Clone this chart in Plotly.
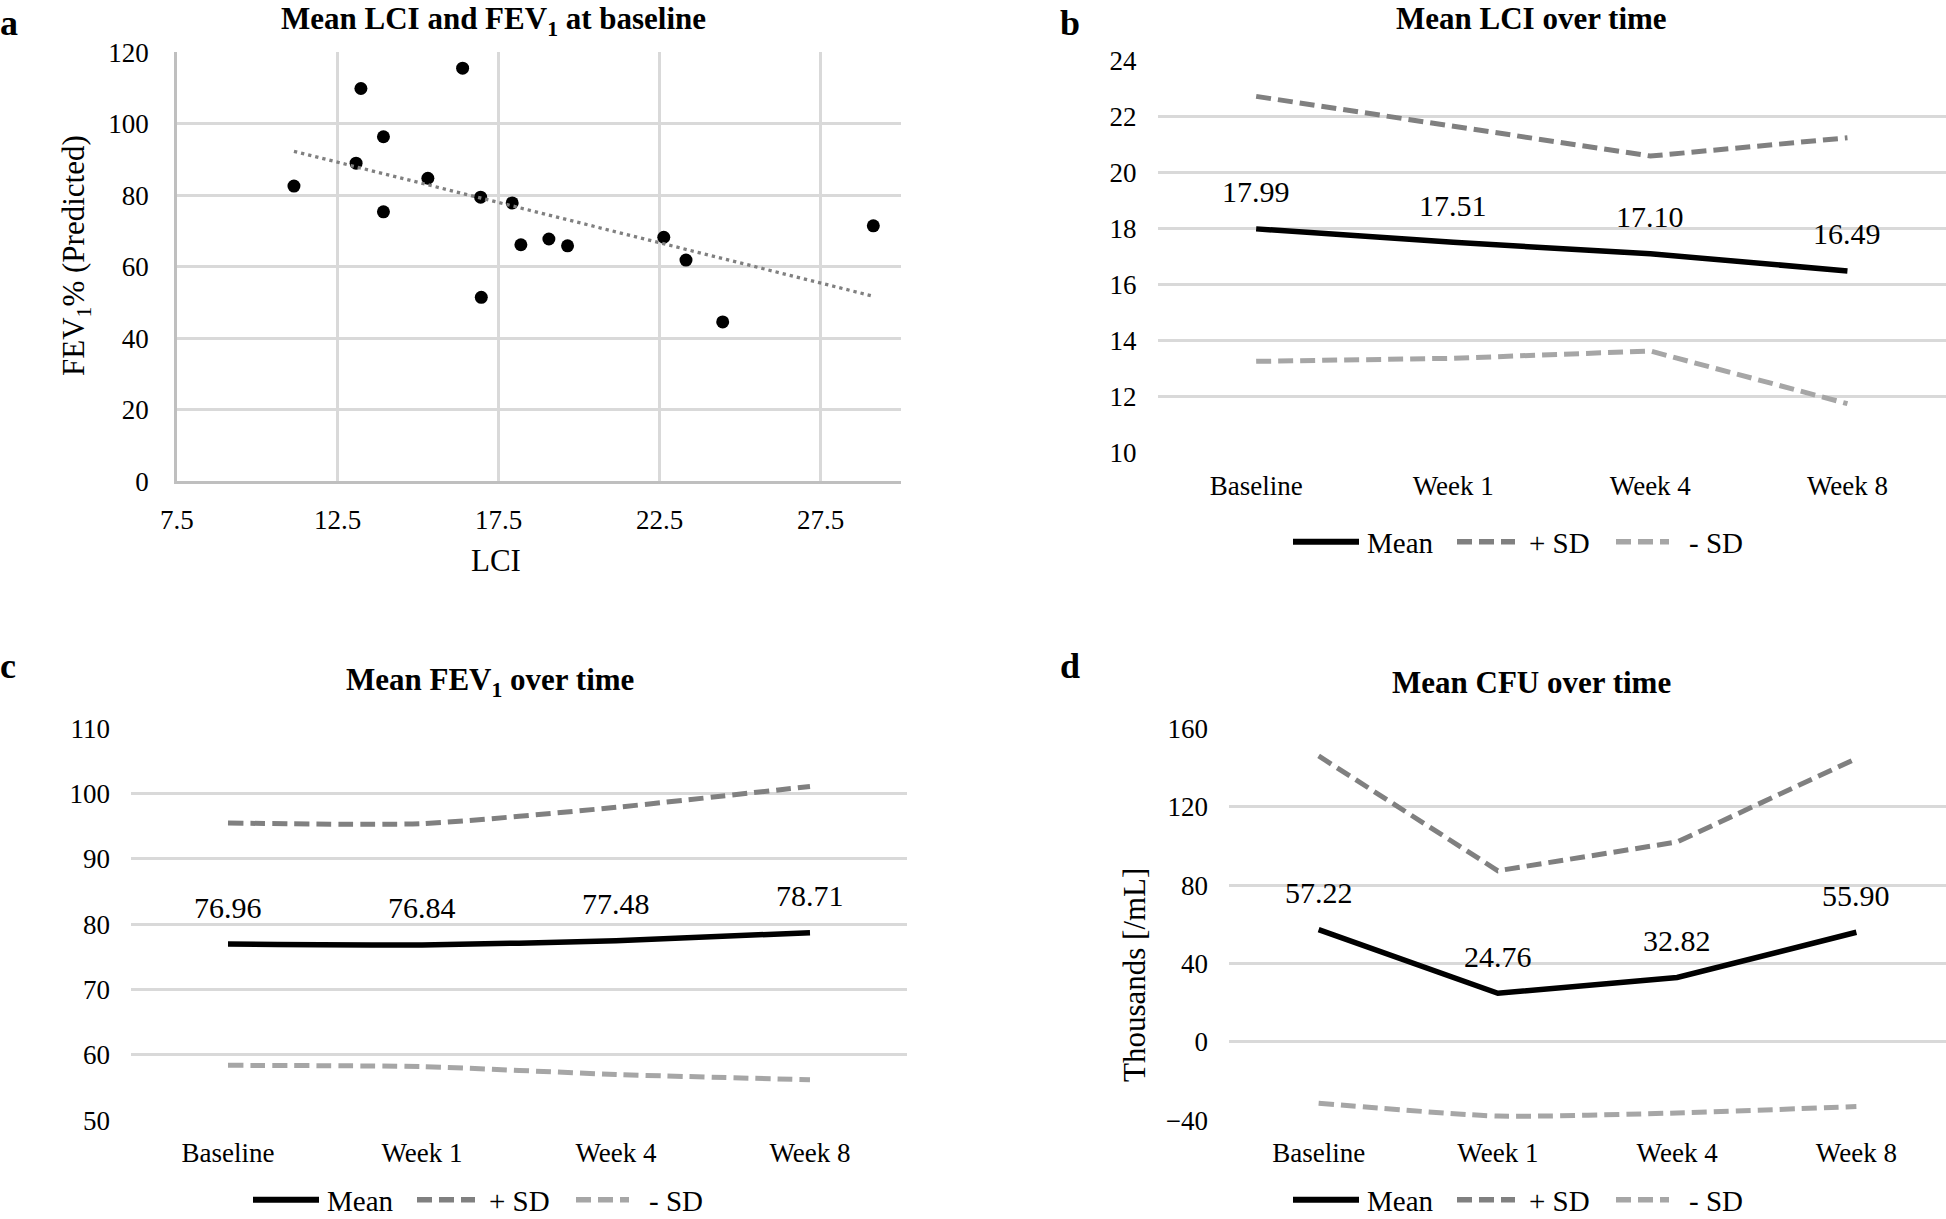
import numpy as np
import plotly.graph_objects as go

FONT = "Liberation Serif"
W, H = 1946, 1219

# ---------------- data ----------------
# Panel a: baseline LCI vs FEV1 % predicted
lci = [11.14, 13.22, 13.07, 13.92, 13.92, 15.30, 16.38, 16.94, 16.96, 17.92,
       18.19, 19.06, 19.64, 22.63, 23.32, 24.46, 29.14]
fev = [82.6, 109.9, 89.0, 96.4, 75.4, 84.8, 115.6, 79.5, 51.5, 77.9,
       66.2, 67.8, 65.9, 68.3, 61.9, 44.6, 71.5]
a_xticks = [7.5, 12.5, 17.5, 22.5, 27.5]

weeks = ["Baseline", "Week 1", "Week 4", "Week 8"]

lci_mean = [17.99, 17.51, 17.10, 16.49]
lci_plus = [22.72, 21.66, 20.59, 21.24]
lci_minus = [13.26, 13.37, 13.63, 11.75]

fev_mean = [76.96, 76.84, 77.48, 78.71]
fev_plus = [95.5, 95.4, 97.9, 101.1]
fev_minus = [58.4, 58.2, 57.0, 56.2]

cfu_mean = [57.22, 24.76, 32.82, 55.90]
cfu_plus = [145.9, 87.3, 102.0, 144.6]
cfu_minus = [-31.3, -37.9, -36.3, -33.0]

series_names = ["Mean", "+ SD", "- SD"]

# ---------------- helpers ----------------
def px(x):
    return x / W

def py(y):
    return 1 - y / H

BLACK = "#000000"
DARK = "#808080"
LIGHT = "#a6a6a6"
GRID = "#d9d9d9"
TICK = 27
LBL = 30
DASH = "15px,7px"
colors = [BLACK, DARK, LIGHT]
widths = [5.5, 5, 5]
dashes = ["solid", DASH, DASH]

fig = go.Figure()

# ---------------- panel a ----------------
fig.add_trace(go.Scatter(x=lci, y=fev, mode="markers", xaxis="x", yaxis="y",
                         marker=dict(color=BLACK, size=13), showlegend=False))
slope, icpt = np.polyfit(lci, fev, 1)
tx = np.array([min(lci), max(lci)])
fig.add_trace(go.Scatter(x=tx, y=slope * tx + icpt, mode="lines", xaxis="x", yaxis="y",
                         line=dict(color="#808080", width=3.3, dash="3.3px,4px"),
                         showlegend=False))

# ---------------- line panels ----------------
panels = [
    ("2", lci_mean, lci_plus, lci_minus, ["linear", "linear", "linear"]),
    ("3", fev_mean, fev_plus, fev_minus, ["spline", "spline", "spline"]),
    ("4", cfu_mean, cfu_plus, cfu_minus, ["linear", "linear", "spline"]),
]
for ax, m, p, n, shapes in panels:
    for vals, nm, col, wd, ds, shp in zip([m, p, n], series_names, colors, widths, dashes, shapes):
        fig.add_trace(go.Scatter(x=weeks, y=vals, mode="lines", name=nm, showlegend=False,
                                 xaxis="x" + ax, yaxis="y" + ax,
                                 line=dict(color=col, width=wd, dash=ds, shape=shp,
                                           smoothing=0.6)))
    for w, v in zip(weeks, m):
        fig.add_annotation(x=w, y=v, xref="x" + ax, yref="y" + ax, text=f"{v:.2f}",
                           showarrow=False, yshift=37,
                           font=dict(family=FONT, size=LBL, color=BLACK))

# ---------------- axes ----------------
tickfont = dict(family=FONT, size=TICK, color=BLACK)
common_y = dict(showgrid=True, gridcolor=GRID, gridwidth=2.5, zeroline=False,
                ticks="", tickfont=tickfont, ticklabelstandoff=20, automargin=False)
cat_x = dict(type="category", range=[-0.5, 3.5], showgrid=False, zeroline=False,
             showline=False, ticks="", tickfont=tickfont, ticklabelstandoff=14,
             automargin=False)

fig.update_layout(
    xaxis=dict(domain=[px(176.8), px(901)], range=[7.5, 30], tickvals=a_xticks,
               ticktext=[str(v) for v in a_xticks], showgrid=True, gridcolor=GRID,
               gridwidth=2.5, zeroline=False, showline=True, linecolor="#bfbfbf",
               linewidth=2.5, ticks="", tickfont=tickfont, ticklabelstandoff=12,
               anchor="y", automargin=False),
    yaxis=dict(domain=[py(481.4), py(52.4)], range=[0, 120], dtick=20, showline=True,
               linecolor="#bfbfbf", linewidth=2.5, anchor="x", **common_y),
    xaxis2=dict(domain=[px(1157.6), 1.0], anchor="y2", **cat_x),
    yaxis2=dict(domain=[py(452.7), py(60.5)], range=[10, 24], dtick=2, anchor="x2", **common_y),
    xaxis3=dict(domain=[px(131), px(907)], anchor="y3", **cat_x),
    yaxis3=dict(domain=[py(1120.2), py(728.3)], range=[50, 110], dtick=10, anchor="x3", **common_y),
    xaxis4=dict(domain=[px(1229), 1.0], anchor="y4", **cat_x),
    yaxis4=dict(domain=[py(1120.2), py(728.3)], range=[-40, 160], dtick=40, anchor="x4", **common_y),
)

# ---------------- text helpers ----------------
def note(text, x, y, size, bold=False, angle=0, xanchor="center"):
    fig.add_annotation(x=px(x), y=py(y), xref="paper", yref="paper",
                       text=f"<b>{text}</b>" if bold else text, showarrow=False,
                       xanchor=xanchor, yanchor="middle", textangle=angle,
                       font=dict(family=FONT, size=size, color=BLACK))

# ---------------- legends (drawn per panel) ----------------
# offsets of sample start, sample end, text start relative to legend's left edge
leg_items = [(0, 66, 72), (164, 222, 234), (323, 376, 394)]
for left, ly in [(1293, 541.7), (253, 1199.7), (1293, 1199.7)]:
    for (s0, s1, t0), nm, col, wd, ds in zip(leg_items, series_names, colors, widths, dashes):
        fig.add_shape(type="line", xref="paper", yref="paper",
                      x0=px(left + s0), x1=px(left + s1), y0=py(ly), y1=py(ly),
                      line=dict(color=col, width=wd + 0.5, dash=ds))
        note(nm, left + t0, ly + 1, 29, xanchor="left")

# ---------------- titles and labels ----------------
note("Mean LCI and FEV<sub>1</sub> at baseline", 493, 21, 31, bold=True)
note("Mean LCI over time", 1531, 19, 31, bold=True)
note("Mean FEV<sub>1</sub> over time", 490, 682, 31, bold=True)
note("Mean CFU over time", 1531, 682, 31, bold=True)
note("a", 9, 23, 36, bold=True)
note("b", 1070, 23, 36, bold=True)
note("c", 8, 666, 36, bold=True)
note("d", 1070, 666, 36, bold=True)
note("LCI", 496, 561, 31)
note("FEV<sub>1</sub>% (Predicted)", 76, 256, 31, angle=-90)
note("Thousands [/mL]", 1134, 975, 31, angle=-90)

fig.update_layout(width=W, height=H,
                  margin=dict(l=0, r=0, t=0, b=0, pad=0, autoexpand=False),
                  paper_bgcolor="white", plot_bgcolor="white",
                  font=dict(family=FONT, color=BLACK), showlegend=False)

fig.write_html("out.html", config={"displayModeBar": False},
               post_script="document.body.style.margin='0';")
